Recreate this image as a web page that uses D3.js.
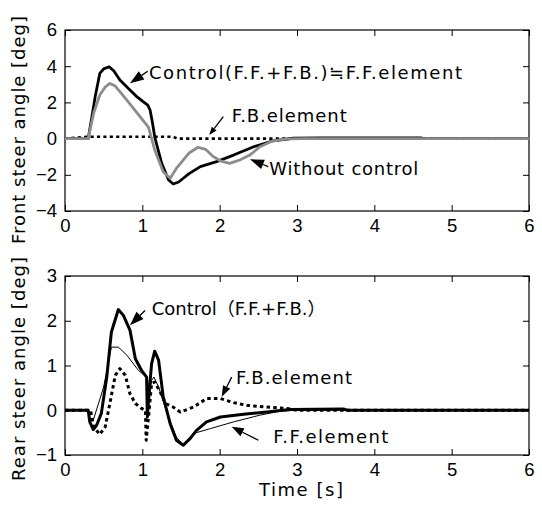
<!DOCTYPE html>
<html lang="en">
<head>
<meta charset="utf-8">
<title>Steer angle response</title>
<style>
  html, body { margin: 0; padding: 0; background: #fff; }
  svg { display: block; }
</style>
</head>
<body>
<svg id="canvas"></svg>
<script src="https://cdn.jsdelivr.net/npm/d3@7"></script>
<script>

  // ---- data ----
  // front steer angle [deg]
  const frontCtrlT = [0, 0.30, 0.34, 0.39, 0.45, 0.50, 0.57, 0.63, 0.71, 0.84, 0.92, 1.01, 1.07, 1.10, 1.13, 1.16, 1.25, 1.34, 1.40, 1.47, 1.53, 1.60, 1.75, 1.96, 2.18, 2.44, 2.69, 2.95, 3.30, 4.60, 4.65, 6];
  const frontCtrlV = [0, 0, 1.0, 2.31, 3.6, 3.85, 3.97, 3.75, 3.24, 2.69, 2.35, 2.04, 1.85, 1.58, 0.9, 0.1, -1.37, -2.29, -2.51, -2.40, -2.19, -1.95, -1.55, -1.27, -0.91, -0.45, -0.12, 0.02, 0.04, 0.04, 0, 0];

  const frontNoneT = [0, 0.30, 0.37, 0.45, 0.52, 0.58, 0.65, 0.80, 0.97, 1.08, 1.16, 1.27, 1.36, 1.44, 1.60, 1.72, 1.82, 1.92, 2.02, 2.13, 2.26, 2.39, 2.52, 2.69, 2.87, 3.10, 6];
  const frontNoneV = [0, 0, 1.40, 2.41, 2.85, 3.05, 2.9, 2.13, 1.21, 0.62, -0.63, -1.83, -2.19, -1.65, -0.81, -0.48, -0.6, -1.0, -1.25, -1.37, -1.18, -0.91, -0.45, -0.12, -0.02, 0, 0];

  const frontFbT = [0, 0.30, 1.40, 1.45, 6];
  const frontFbV = [0, 0.1, 0.1, 0, 0];

  // rear steer angle [deg]
  const rearCtrlT = [0, 0.30, 0.32, 0.366, 0.41, 0.47, 0.54, 0.60, 0.69, 0.755, 0.84, 0.91, 0.99, 1.055, 1.065, 1.09, 1.12, 1.16, 1.21, 1.27, 1.36, 1.44, 1.53, 1.62, 1.70, 1.83, 2.01, 2.31, 2.61, 2.91, 3.60, 3.65, 6];
  const rearCtrlV = [0, 0, -0.26, -0.43, -0.33, -0.07, 0.74, 1.75, 2.25, 2.12, 1.79, 1.15, 0.89, 0.74, -0.15, 0.45, 1.04, 1.32, 1.12, 0.30, -0.30, -0.67, -0.78, -0.63, -0.45, -0.26, -0.15, -0.09, -0.04, 0.015, 0.03, 0, 0];

  const rearFfT = [0, 0.30, 0.32, 0.366, 0.50, 0.60, 0.69, 0.80, 0.95, 1.055, 1.065, 1.12, 1.15, 1.21, 1.32, 1.44, 1.53, 1.66, 1.88, 2.18, 2.52, 2.78, 3.0, 6];
  const rearFfV = [0, 0, -0.15, -0.22, 0.52, 1.41, 1.41, 1.23, 0.89, 0.74, 0, 0.67, 0.74, 0.52, -0.07, -0.6, -0.78, -0.52, -0.41, -0.26, -0.11, -0.02, 0, 0];

  const rearFbT = [0, 0.33, 0.37, 0.45, 0.52, 0.58, 0.65, 0.71, 0.78, 0.84, 0.91, 0.99, 1.04, 1.05, 1.08, 1.12, 1.16, 1.23, 1.30, 1.40, 1.49, 1.66, 1.83, 2.01, 2.18, 2.35, 2.61, 2.87, 3.0, 6];
  const rearFbV = [0, 0, -0.37, -0.54, -0.37, 0.15, 0.78, 0.93, 0.78, 0.37, 0.15, 0.04, 0, -0.67, -0.15, 0.6, 0.63, 0.41, 0.15, 0.07, -0.04, 0.07, 0.26, 0.26, 0.17, 0.11, 0.07, 0.04, 0, 0];

  const xTicks = [0, 1, 2, 3, 4, 5, 6];
  const frontTicks = [-4, -2, 0, 2, 4, 6];
  const rearTicks = [-1, 0, 1, 2, 3];

  // annotations: label position, arrow tip and arrow tail, all in data units
  const frontNotes = [
    { text: "Control(F.F.+F.B.)\u2252F.F.element", at: [1.086, 3.28], tip: [0.84, 3.06], tail: [1.07, 3.72], head: [14, 10], len: 313 },
    { text: "F.B.element", at: [2.156, 0.93], tip: [1.866, 0.2], tail: [2.047, 1.21], head: [8, 6], len: 115 },
    { text: "Without control", at: [2.642, -2.01], tip: [2.392, -1.14], tail: [2.629, -1.55], head: [14, 10], len: 149 }
  ];
  const rearNotes = [
    { text: "Control\uFF08F.F.+F.B.\uFF09", at: [1.121, 2.12], tip: [0.84, 1.90], tail: [1.035, 2.23], head: [14, 10], len: null },
    { text: "F.B.element", at: [2.211, 0.596], tip: [2.026, 0.30], tail: [2.156, 0.74], head: [11, 8], len: 116 },
    { text: "F.F.element", at: [2.694, -0.74], tip: [2.156, -0.37], tail: [2.50, -0.67], head: [12, 9], len: 115 }
  ];

  // ---- drawing ----
  const width = 542;
  const height = 514;
  const labelFont = "'DejaVu Sans', 'Noto Sans CJK JP', sans-serif";
  const tickFont = "'Liberation Sans', Arial, sans-serif";
  const fmt = d3.format("d");

  const svg = d3.select("#canvas")
    .attr("width", width)
    .attr("height", height)
    .attr("viewBox", [0, 0, width, height]);

  svg.append("rect").attr("width", width).attr("height", height).attr("fill", "#fff");

  const x = d3.scaleLinear().domain([0, 6]).range([65, 529]);
  const yFront = d3.scaleLinear().domain([-4, 6]).range([211, 30]);
  const yRear = d3.scaleLinear().domain([-1, 3]).range([455, 276]);

  function zip(ts, vs) {
    return ts.map((t, i) => [t, vs[i]]);
  }

  function frame(y, yTicks) {
    const top = y.range()[1], bottom = y.range()[0];
    const g = svg.append("g");

    g.append("g")
      .attr("transform", `translate(0,${bottom})`)
      .call(d3.axisBottom(x).tickValues(xTicks).tickFormat(fmt).tickSizeInner(-6).tickSizeOuter(0).tickPadding(8));
    g.append("g")
      .attr("transform", `translate(0,${top})`)
      .call(d3.axisTop(x).tickValues(xTicks).tickSizeInner(-6).tickSizeOuter(0).tickFormat(""));
    g.append("g")
      .attr("transform", `translate(${x.range()[0]},0)`)
      .call(d3.axisLeft(y).tickValues(yTicks).tickFormat(fmt).tickSizeInner(-6).tickSizeOuter(0).tickPadding(8));
    g.append("g")
      .attr("transform", `translate(${x.range()[1]},0)`)
      .call(d3.axisRight(y).tickValues(yTicks).tickSizeInner(-6).tickSizeOuter(0).tickFormat(""));

    g.selectAll(".domain").remove();
    g.selectAll(".tick line").attr("stroke", "#000").attr("stroke-width", 1);
    g.selectAll(".tick text")
      .attr("font-family", tickFont)
      .attr("font-size", 18.5)
      .attr("fill", "#000");

    g.append("rect")
      .attr("x", x.range()[0])
      .attr("y", top)
      .attr("width", x.range()[1] - x.range()[0])
      .attr("height", bottom - top)
      .attr("fill", "none")
      .attr("stroke", "#000")
      .attr("stroke-width", 1.2);
    return g;
  }

  function series(y, pts, color, w, dash) {
    const line = d3.line().x(d => x(d[0])).y(d => y(d[1]));
    svg.append("path")
      .datum(pts)
      .attr("d", line)
      .attr("fill", "none")
      .attr("stroke", color)
      .attr("stroke-width", w)
      .attr("stroke-linejoin", "round")
      .attr("stroke-dasharray", dash || null);
  }

  function note(y, n) {
    const tx = x(n.tip[0]), ty = y(n.tip[1]);
    const sx = x(n.tail[0]), sy = y(n.tail[1]);
    const dx = tx - sx, dy = ty - sy;
    const L = Math.hypot(dx, dy);
    const ux = dx / L, uy = dy / L;
    const hl = n.head[0], hw = n.head[1] / 2;
    const bx = tx - ux * hl, by = ty - uy * hl;

    svg.append("line")
      .attr("x1", sx).attr("y1", sy)
      .attr("x2", bx).attr("y2", by)
      .attr("stroke", "#000")
      .attr("stroke-width", 1.3);
    svg.append("path")
      .attr("d", `M${tx},${ty}L${bx - uy * hw},${by + ux * hw}L${bx + uy * hw},${by - ux * hw}Z`)
      .attr("fill", "#000");

    const t = svg.append("text")
      .attr("x", x(n.at[0]))
      .attr("y", y(n.at[1]))
      .attr("font-family", labelFont)
      .attr("font-size", 18)
      .attr("fill", "#000")
      .text(n.text);
    if (n.len) t.attr("textLength", n.len).attr("lengthAdjust", "spacing");
  }

  // top panel
  frame(yFront, frontTicks);
  series(yFront, zip(frontFbT, frontFbV), "#000", 2.6, "3.2,3.2");
  series(yFront, zip(frontCtrlT, frontCtrlV), "#000", 2.8);
  series(yFront, zip(frontNoneT, frontNoneV), "#8c8c8c", 2.8);
  frontNotes.forEach(n => note(yFront, n));

  // bottom panel
  frame(yRear, rearTicks);
  series(yRear, zip(rearFfT, rearFfV), "#000", 1);
  series(yRear, zip(rearCtrlT, rearCtrlV), "#000", 3);
  series(yRear, zip(rearFbT, rearFbV), "#000", 3, "3.5,3.2");
  rearNotes.forEach(n => note(yRear, n));

  // axis titles
  svg.append("text")
    .attr("transform", "translate(25,130) rotate(-90)")
    .attr("text-anchor", "middle")
    .attr("font-family", labelFont)
    .attr("font-size", 18)
    .attr("textLength", 228)
    .text("Front steer angle [deg]");

  svg.append("text")
    .attr("transform", "translate(25,369) rotate(-90)")
    .attr("text-anchor", "middle")
    .attr("font-family", labelFont)
    .attr("font-size", 18)
    .attr("textLength", 224)
    .text("Rear steer angle [deg]");

  svg.append("text")
    .attr("x", 301)
    .attr("y", 496)
    .attr("text-anchor", "middle")
    .attr("font-family", labelFont)
    .attr("font-size", 18)
    .attr("textLength", 84)
    .text("Time [s]");

</script>
</body>
</html>
